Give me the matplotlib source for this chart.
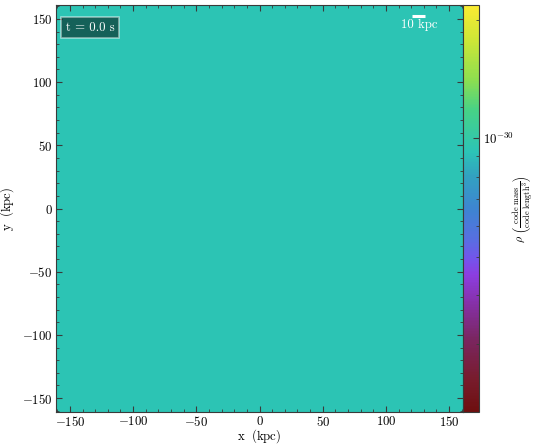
import numpy as np
import matplotlib
matplotlib.use("Agg")
import matplotlib.pyplot as plt
from matplotlib.colors import LinearSegmentedColormap, LogNorm
from matplotlib.ticker import MultipleLocator, NullFormatter, LogLocator

plt.rcParams['font.family'] = ['cmr10', 'DejaVu Serif']
plt.rcParams['mathtext.fontset'] = 'cm'
plt.rcParams['axes.formatter.use_mathtext'] = True
plt.rcParams['axes.unicode_minus'] = True

# ---- data ----
density_value = 9.3e-31           # uniform density (code units)
nx = ny = 64
density = np.full((ny, nx), density_value)
x_extent = [-161.0, 161.0]        # kpc
y_extent = [-161.0, 161.0]        # kpc
cbar_limits = [2.02e-31, 2.18e-30]
x_ticks = [-150, -100, -50, 0, 50, 100, 150]
y_ticks = [-150, -100, -50, 0, 50, 100, 150]
time_label = "t = 0.0 s"
scalebar_kpc = 10
scalebar_center = [126.0, 152.5]

# colormap approximating the reference colour bar
cmap_nodes = [
    (0.000, (110, 15, 15)),
    (0.080, (120, 28, 45)),
    (0.180, (122, 38, 98)),
    (0.275, (135, 50, 175)),
    (0.337, (140, 62, 225)),
    (0.373, (118, 82, 235)),
    (0.423, (88, 110, 225)),
    (0.496, (62, 132, 210)),
    (0.582, (50, 162, 192)),
    (0.640, (44, 196, 182)),
    (0.742, (70, 210, 135)),
    (0.816, (140, 222, 80)),
    (0.914, (205, 230, 55)),
    (1.000, (250, 235, 50)),
]
cmap = LinearSegmentedColormap.from_list(
    "arbre_like", [(p, tuple(c / 255 for c in col)) for p, col in cmap_nodes])

fig = plt.figure(figsize=(5.35, 4.45), dpi=100)
ax = fig.add_axes([56 / 535, 33 / 445, 407 / 535, 407 / 445])
cax = fig.add_axes([463 / 535, 33 / 445, 15.5 / 535, 407 / 445])

norm = LogNorm(vmin=cbar_limits[0], vmax=cbar_limits[1])
im = ax.imshow(density, origin="lower", cmap=cmap, norm=norm,
               extent=[x_extent[0], x_extent[1], y_extent[0], y_extent[1]],
               aspect="auto", interpolation="nearest")
ax.set_xlim(x_extent)
ax.set_ylim(y_extent)

spine_col = "#3a3a3a"
fs = 9.2
ax.set_xticks(x_ticks)
ax.set_yticks(y_ticks)
ax.xaxis.set_minor_locator(MultipleLocator(10))
ax.yaxis.set_minor_locator(MultipleLocator(10))
ax.tick_params(which="both", direction="in", top=True, right=True,
               color=spine_col, labelsize=fs)
ax.tick_params(which="major", length=4, width=0.8, pad=2.5)
ax.tick_params(which="minor", length=2.2, width=0.6)
for s in ax.spines.values():
    s.set_color(spine_col)
    s.set_linewidth(0.8)
ax.set_xlabel(r"$\mathrm{x}\ \ (\mathrm{kpc})$", fontsize=fs, labelpad=-1.5)
ax.set_ylabel(r"$\mathrm{y}\ \ (\mathrm{kpc})$", fontsize=fs, labelpad=4)

# timestamp
ax.text((90 - 56) / 407, (412 - 27.5) / 407, time_label, transform=ax.transAxes,
        ha="center", va="center", color="white", fontsize=fs,
        bbox=dict(boxstyle="square,pad=0.35", facecolor="black",
                  edgecolor="white", alpha=0.5, linewidth=1.2))

# scale bar
ax.plot([scalebar_center[0] - scalebar_kpc / 2, scalebar_center[0] + scalebar_kpc / 2],
        [scalebar_center[1], scalebar_center[1]], color="white", lw=2.2,
        solid_capstyle="butt")
ax.text(scalebar_center[0], scalebar_center[1] - 2.3, f"{scalebar_kpc} kpc",
        color="white", ha="center", va="top", fontsize=fs)

cb = fig.colorbar(im, cax=cax)
cb.outline.set_edgecolor(spine_col)
cb.outline.set_linewidth(0.8)
cax.yaxis.set_major_locator(LogLocator(base=10))
cax.yaxis.set_minor_locator(LogLocator(base=10, subs=np.arange(2, 10)))
cax.yaxis.set_minor_formatter(NullFormatter())
cax.tick_params(which="both", direction="in", color=spine_col, labelsize=fs)
cax.tick_params(which="major", length=4, width=0.8, pad=3)
cax.tick_params(which="minor", length=2.2, width=0.6)
cax.xaxis.set_visible(False)

fig.text(523 / 535, (445 - 209) / 445,
         r"$\rho\ \left(\frac{\mathrm{code\ mass}}{\mathrm{code\ length}^{3}}\right)$",
         rotation=90, ha="center", va="center", fontsize=8.5)

fig.savefig("out.png", dpi=100)
